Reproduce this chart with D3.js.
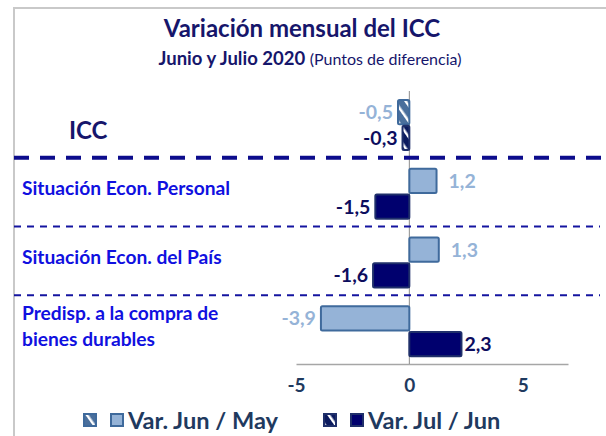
<!DOCTYPE html>
<html><head><meta charset="utf-8">
<script src="https://cdn.jsdelivr.net/npm/d3@7"></script>
<style>body{margin:0;background:#fff}svg{display:block}</style>
</head><body>
<script>
const categories = ["ICC", "Situación Econ. Personal", "Situación Econ. del País", "Predisp. a la compra de|bienes durables"];
const seriesNames = ["Var. Jun / May", "Var. Jul / Jun"];
const junMay = [-0.5, 1.2, 1.3, -3.9];
const julJun = [-0.3, -1.5, -1.6, 2.3];
const tickValues = [-5, 0, 5];

const W = 606, H = 436;
const font = "Lato, 'Open Sans', sans-serif";
const svg = d3.select("body").append("svg").attr("width", W).attr("height", H);
const defs = svg.append("defs");
function hatch(id, fill) {
  const p = defs.append("pattern").attr("id", id).attr("patternUnits", "userSpaceOnUse")
    .attr("width", 9).attr("height", 9).attr("patternTransform", "rotate(-35)");
  p.append("rect").attr("width", 9).attr("height", 9).attr("fill", fill);
  p.append("rect").attr("x", 3).attr("width", 2.5).attr("height", 9).attr("fill", "#fff");
}
hatch("hJun", "#4a6f9c");
hatch("hJul", "#0b1a5e");

// frame
svg.append("path").attr("d", `M14,${H} V8 H${W}`).attr("fill", "none").attr("stroke", "#c9c9c9").attr("stroke-width", 2);

// title
svg.append("text").attr("x", 302).attr("y", 37).attr("text-anchor", "middle")
  .attr("font-family", font).attr("font-weight", "bold").attr("font-size", 24).attr("fill", "#16166b")
  .text("Variación mensual del ICC");
const sub = svg.append("text").attr("x", 310).attr("y", 65).attr("text-anchor", "middle")
  .attr("font-family", font).attr("fill", "#16166b");
sub.append("tspan").attr("font-weight", "bold").attr("font-size", 18.5).text("Junio y Julio 2020 ");
sub.append("tspan").attr("font-size", 16).text("(Puntos de diferencia)");

const x = d3.scaleLinear().domain([-5, 7]).range([296, 568]);
const y = d3.scaleBand().domain(categories).range([89, 364]);
const ySub = d3.scaleBand().domain(seriesNames).range([11, 61]).paddingInner(0.06);

// axis
const axis = svg.append("g").attr("transform", "translate(0,364)")
  .call(d3.axisBottom(x).tickValues(tickValues).tickSize(0).tickPadding(15).tickFormat(d3.format("d")));
axis.select(".domain").attr("stroke", "#a6a6a6").attr("stroke-width", 1.5);
axis.selectAll("text").attr("font-family", font).attr("font-weight", "bold").attr("font-size", 19)
  .attr("fill", "#1f3a5f").text(d => d < 0 ? "-" + Math.abs(d) : d);

// zero line
svg.append("line").attr("x1", x(0)).attr("x2", x(0)).attr("y1", 91).attr("y2", 364)
  .attr("stroke", "#8c8c8c").attr("stroke-width", 1);

// separators
svg.append("line").attr("x1", 14).attr("x2", W).attr("y1", y(categories[1])).attr("y2", y(categories[1]))
  .attr("stroke", "#0c0c8c").attr("stroke-width", 4).attr("stroke-dasharray", "15,11");
[categories[2], categories[3]].forEach(c => {
  svg.append("line").attr("x1", 14).attr("x2", 600).attr("y1", y(c)).attr("y2", y(c))
    .attr("stroke", "#1414a0").attr("stroke-width", 2).attr("stroke-dasharray", "7,6");
});

const series = [
  {name: seriesNames[0], vals: junMay, fill: "#95b3d7", stroke: "#3f6a9c", label: "#95b3d7", hatch: "url(#hJun)"},
  {name: seriesNames[1], vals: julJun, fill: "#00006e", stroke: "#1f2f6a", label: "#0d0d5e", hatch: "url(#hJul)"}
];
const fmt = v => d3.format(".1f")(v).replace(".", ",").replace("−", "-");

series.forEach(s => {
  const g = svg.append("g");
  categories.forEach((c, i) => {
    const v = s.vals[i];
    const y0 = y(c) + ySub(s.name), h = ySub.bandwidth();
    g.append("rect").attr("x", x(Math.min(0, v))).attr("y", y0)
      .attr("width", Math.abs(x(v) - x(0))).attr("height", h)
      .attr("fill", i === 0 ? s.hatch : s.fill).attr("stroke", s.stroke).attr("stroke-width", 2)
      .attr("rx", 1.5);
    const lx = v < 0 ? x(v) - 5 : x(v) + (s.name === seriesNames[0] ? 12 : 3);
    g.append("text").attr("x", lx).attr("y", y0 + h / 2 + 7)
      .attr("text-anchor", v < 0 ? "end" : "start")
      .attr("font-family", font).attr("font-weight", "bold").attr("font-size", 19.5).attr("fill", s.label)
      .text(fmt(v));
  });
});

// category labels
categories.forEach((c, i) => {
  const t = svg.append("text").attr("font-family", font).attr("font-weight", "bold");
  if (i === 0) {
    t.attr("x", 69).attr("y", y(c) + 50).attr("font-size", 24).attr("fill", "#16166b").text(c);
  } else {
    const lines = c.split("|");
    const yc = y(c) + y.bandwidth() / 2 - 3;
    t.attr("font-size", 19.2).attr("fill", "#1010e0");
    lines.forEach((ln, j) => {
      t.append("tspan").attr("x", 22).attr("y", yc + 6 + (j - (lines.length - 1) / 2) * 26).text(ln);
    });
  }
});

// legend
const lg = svg.append("g");
const legendX = [83, 323];
series.forEach((s, i) => {
  const gx = legendX[i];
  lg.append("rect").attr("x", gx + 1).attr("y", 414).attr("width", 12).attr("height", 12)
    .attr("fill", s.hatch).attr("stroke", s.stroke).attr("stroke-width", 2);
  lg.append("rect").attr("x", gx + 28).attr("y", 414).attr("width", 12).attr("height", 12)
    .attr("fill", s.fill).attr("stroke", s.stroke).attr("stroke-width", 2);
  lg.append("text").attr("x", gx + 45).attr("y", 429).attr("font-family", font).attr("font-weight", "bold")
    .attr("font-size", 23.6).attr("fill", "#1f3a5f").text(s.name);
});
</script>
</body></html>
